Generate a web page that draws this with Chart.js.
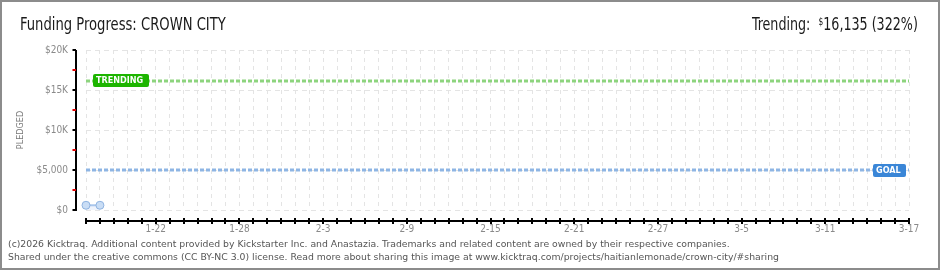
<!DOCTYPE html>
<html>
<head>
<meta charset="utf-8">
<script src="https://cdn.jsdelivr.net/npm/chart.js@4.4.1/dist/chart.umd.min.js"></script>
<style>
  body { margin: 0; background: #fff; }
  #wrap { position: relative; width: 940px; height: 270px; overflow: hidden; background: #fff; }
  #chart { position: absolute; left: 0; top: 0; }
  #frame { position: absolute; left: 0; top: 0; width: 940px; height: 270px; box-sizing: border-box; border: 2px solid #8c8c8c; pointer-events: none; }
  .head { position: absolute; top: 16px; font: 17px/17px 'Liberation Sans Narrow', 'DejaVu Sans Condensed', sans-serif; color: #1a1a1a; white-space: nowrap; }
  #title { left: 20px; transform: scaleX(0.86); transform-origin: left top; }
  #trend { right: 22px; transform: scaleX(0.83); transform-origin: right top; }
  #trend sup { font-size: 10px; vertical-align: 5px; line-height: 0; }
  .foot { position: absolute; left: 8px; font: 9.3px/13px 'DejaVu Sans', sans-serif; color: #555; white-space: nowrap; }
</style>
</head>
<body>
<div id="wrap">
  <canvas id="chart" width="940" height="270"></canvas>
  <div class="head" id="title">Funding Progress: CROWN CITY</div>
  <div class="head" id="trend">Trending:&nbsp; <sup>$</sup>16,135 (322%)</div>
  <div class="foot" style="top:237px">(c)2026 Kicktraq. Additional content provided by Kickstarter Inc. and Anastazia. Trademarks and related content are owned by their respective companies.</div>
  <div class="foot" style="top:250px">Shared under the creative commons (CC BY-NC 3.0) license. Read more about sharing this image at www.kicktraq.com/projects/haitianlemonade/crown-city/#sharing</div>
  <div id="frame"></div>
</div>
<script>
// day index 0 = 1-17, last day 59 = 3-17
const lastDay = 59;
const xTickDays = [5, 11, 17, 23, 29, 35, 41, 47, 53, 59];
const xTickLabels = ['1-22', '1-28', '2-3', '2-9', '2-15', '2-21', '2-27', '3-5', '3-11', '3-17'];

const yTickValues = [0, 2500, 5000, 7500, 10000, 12500, 15000, 17500, 20000];
const yTickLabels = ['$0', '', '$5,000', '', '$10K', '', '$15K', '', '$20K'];

const pledgedDays = [0, 1];
const pledgedValues = [590, 590];
const trendingValue = 16135;
const goalValue = 5000;

const tickFont = { family: "'DejaVu Sans Condensed', sans-serif", size: 10 };

// axes offset from the grid, tick marks, and the TRENDING / GOAL tags
const kicktraqDecor = {
  id: 'kicktraqDecor',
  afterDatasetsDraw(chart) {
    const { ctx, chartArea, scales } = chart;
    const y = scales.y;
    ctx.save();
    drawTag(ctx, 'TRENDING', '#1db500', chartArea.left + 7, y.getPixelForValue(trendingValue), 56, 'left');
    drawTag(ctx, 'GOAL', '#3a86d7', chartArea.right - 3, y.getPixelForValue(goalValue), 33, 'right');
    ctx.restore();
  },
  afterDraw(chart) {
    const { ctx, chartArea, scales } = chart;
    const x = scales.x, y = scales.y;
    ctx.save();
    const axisX = chartArea.left - 10;
    const axisY = chartArea.bottom + 11;
    ctx.lineWidth = 2;
    ctx.strokeStyle = '#000';
    ctx.beginPath();
    ctx.moveTo(axisX, y.getPixelForValue(20000));
    ctx.lineTo(axisX, y.getPixelForValue(0) + 1);
    ctx.moveTo(x.getPixelForValue(0) - 1, axisY);
    ctx.lineTo(x.getPixelForValue(lastDay) + 1, axisY);
    ctx.stroke();
    // y tick marks: black on labelled values, red in between
    yTickValues.forEach((v, i) => {
      const py = Math.round(y.getPixelForValue(v));
      ctx.fillStyle = yTickLabels[i] ? '#000' : '#e00000';
      ctx.fillRect(axisX - 3.5, py - 1, 3.5, 2);
    });
    // x tick marks every day
    ctx.fillStyle = '#000';
    for (let d = 0; d <= lastDay; d++) {
      const px = Math.round(x.getPixelForValue(d));
      ctx.fillRect(px - 1, axisY - 3, 2, 6);
    }
    ctx.restore();
  }
};

function drawTag(ctx, text, color, x, cy, w, align) {
  const h = 13;
  const left = align === 'left' ? x : x - w;
  const top = Math.round(cy - h / 2);
  ctx.fillStyle = color;
  ctx.beginPath();
  ctx.roundRect(left, top, w, h, 2);
  ctx.fill();
  ctx.fillStyle = '#fff';
  ctx.font = "bold 9px 'DejaVu Sans Condensed', sans-serif";
  ctx.textBaseline = 'middle';
  ctx.textAlign = 'left';
  ctx.fillText(text, left + 3, top + h / 2 + 0.5);
}

new Chart(document.getElementById('chart'), {
  type: 'line',
  data: {
    datasets: [
      {
        label: 'Pledged',
        data: pledgedDays.map((d, i) => ({ x: d, y: pledgedValues[i] })),
        borderColor: '#a9c6ec',
        borderWidth: 2,
        backgroundColor: 'rgba(205, 222, 245, 0.35)',
        fill: 'origin',
        pointRadius: 4,
        pointBackgroundColor: '#c9ddf5',
        pointBorderColor: '#8fb3e0',
        pointBorderWidth: 1,
        clip: false
      },
      {
        label: 'Trending',
        data: [{ x: 0, y: trendingValue }, { x: lastDay, y: trendingValue }],
        borderColor: '#8dd47e',
        borderWidth: 3,
        borderDash: [4, 2],
        pointRadius: 0
      },
      {
        label: 'Goal',
        data: [{ x: 0, y: goalValue }, { x: lastDay, y: goalValue }],
        borderColor: '#8eb5e4',
        borderWidth: 3,
        borderDash: [4, 2],
        pointRadius: 0
      }
    ]
  },
  options: {
    responsive: false,
    animation: false,
    devicePixelRatio: 1,
    layout: { padding: { top: 50, right: 31, bottom: 0, left: 0 } },
    plugins: {
      legend: { display: false },
      tooltip: { enabled: false }
    },
    scales: {
      x: {
        type: 'linear',
        min: 0,
        max: lastDay,
        afterFit: (s) => { s.height = 60; },
        afterBuildTicks: (s) => {
          const t = [];
          for (let d = 0; d <= lastDay; d++) t.push({ value: d });
          s.ticks = t;
        },
        ticks: {
          autoSkip: false,
          maxRotation: 0,
          color: '#8a8a8a',
          font: tickFont,
          padding: 13,
          callback: (v) => {
            const i = xTickDays.indexOf(v);
            return i >= 0 ? xTickLabels[i] : '';
          }
        },
        grid: { color: '#e4e4e4', lineWidth: 1, drawTicks: false },
        border: { display: false, dash: [4, 4] }
      },
      y: {
        min: 0,
        max: 20000,
        afterFit: (s) => { s.width = 86; },
        afterBuildTicks: (s) => { s.ticks = yTickValues.map(v => ({ value: v })); },
        ticks: {
          color: '#8a8a8a',
          font: tickFont,
          padding: 18,
          callback: (v) => yTickLabels[yTickValues.indexOf(v)]
        },
        grid: {
          color: (c) => (c.tick && yTickLabels[yTickValues.indexOf(c.tick.value)]) ? '#e4e4e4' : 'rgba(0,0,0,0)',
          lineWidth: 1,
          drawTicks: false
        },
        border: { display: false, dash: [5, 4] },
        title: {
          display: true,
          text: 'PLEDGED',
          color: '#777',
          font: { family: "'DejaVu Sans Condensed', sans-serif", size: 9 },
          padding: { top: 15, bottom: 0 }
        }
      }
    }
  },
  plugins: [kicktraqDecor]
});
</script>
</body>
</html>
